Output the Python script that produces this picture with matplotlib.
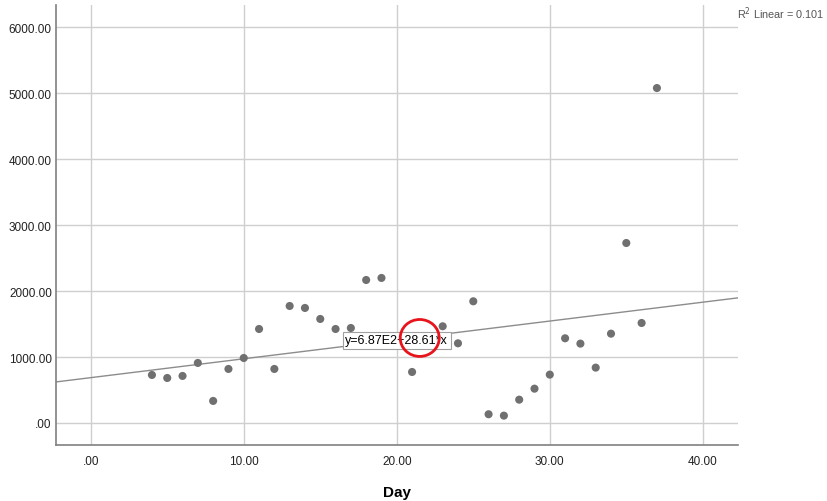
import numpy as np
import matplotlib.pyplot as plt
from matplotlib.patches import Ellipse

plt.rcParams['font.family'] = ['Liberation Sans', 'DejaVu Sans']

day = [4, 5, 6, 7, 8, 9, 10, 11, 12, 13, 14, 15, 16, 17, 18, 19,
       21, 23, 24, 25, 26, 27, 28, 29, 30, 31, 32, 33, 34, 35, 36, 37]
value = [728, 682, 713, 910, 334, 819, 985, 1425, 819, 1774, 1744, 1577, 1425, 1440, 2168, 2199,
         773, 1466, 1208, 1845, 132, 111, 353, 520, 733, 1284, 1203, 839, 1354, 2729, 1516, 5079]

# Linear fit reported in the chart
intercept = 687.0
slope = 28.61
r2 = 0.101

x_ticks = [0, 10, 20, 30, 40]
x_ticklabels = ['.00', '10.00', '20.00', '30.00', '40.00']
y_ticks = [0, 1000, 2000, 3000, 4000, 5000, 6000]
y_ticklabels = ['.00', '1000.00', '2000.00', '3000.00', '4000.00', '5000.00', '6000.00']

fig = plt.figure(figsize=(8.27, 5.02), dpi=100)
ax = fig.add_axes([0.0677, 0.1116, 0.8247, 0.8764])

xmin, xmax = -2.27, 42.3
ymin, ymax = -334, 6338
ax.set_xlim(xmin, xmax)
ax.set_ylim(ymin, ymax)

ax.set_xticks(x_ticks)
ax.set_xticklabels(x_ticklabels)
ax.set_yticks(y_ticks)
ax.set_yticklabels(y_ticklabels)
ax.tick_params(axis='y', length=0, labelsize=8.5, colors='#222222', pad=3)
ax.tick_params(axis='x', length=0, labelsize=8.5, colors='#222222', pad=7)
ax.grid(True, color='#cfcfcf', linewidth=1)
ax.set_axisbelow(True)

for s in ['top', 'right']:
    ax.spines[s].set_visible(False)
for s in ['left', 'bottom']:
    ax.spines[s].set_color('#808080')
    ax.spines[s].set_linewidth(1.2)

# fit line
xs = np.array([xmin, xmax])
ax.plot(xs, intercept + slope * xs, color='#8c8c8c', linewidth=1, zorder=2)

ax.scatter(day, value, s=34, color='#707070', edgecolors='none', zorder=3)

ax.text(20.0, 1258, 'y=6.87E2+28.61*x', fontsize=9, ha='center', va='center', zorder=4,
        bbox=dict(boxstyle='square,pad=0.2', facecolor='white', edgecolor='#a0a0a0', linewidth=0.8))

ax.add_patch(Ellipse((21.5, 1289), width=2.55, height=560, fill=False,
                     edgecolor='#e8141c', linewidth=2, zorder=5))

ax.set_xlabel('Day', fontsize=11, fontweight='bold', labelpad=13)

fig.text(0.891, 0.972, 'R$^2$ Linear = %.3f' % r2, fontsize=7.8, color='#555555',
         ha='left', va='center')

fig.savefig('out.png', dpi=100)
